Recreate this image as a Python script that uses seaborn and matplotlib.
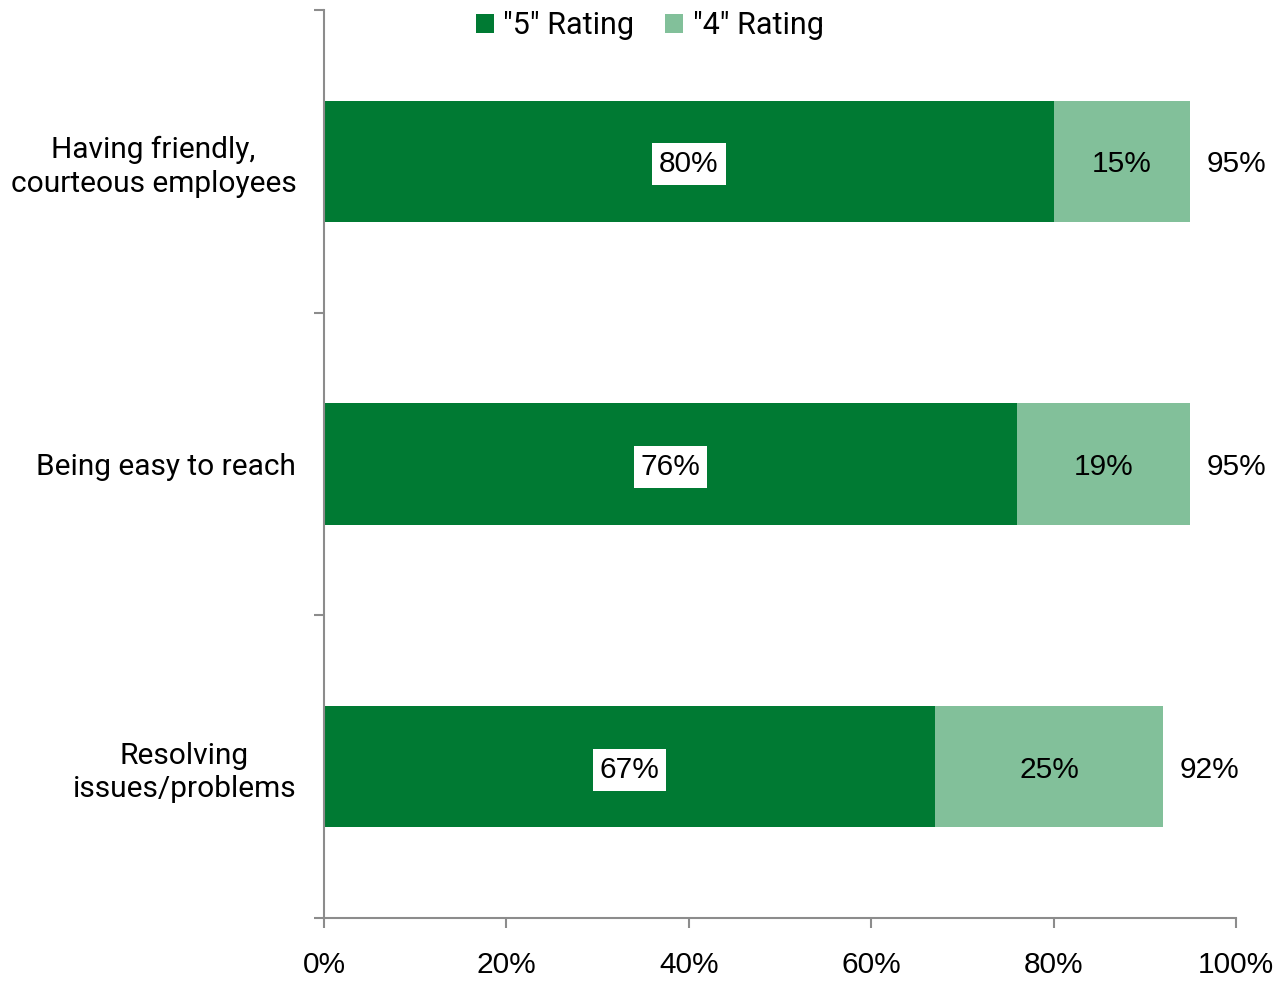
import matplotlib
matplotlib.use("Agg")
import matplotlib.pyplot as plt
import seaborn as sns
import pandas as pd
from matplotlib.patches import Patch
from matplotlib.ticker import FixedLocator, PercentFormatter

categories = ["Having friendly,\ncourteous employees", "Being easy to reach", "Resolving\nissues/problems"]
rating5 = [80, 76, 67]
rating4 = [15, 19, 25]
totals = [95, 95, 92]
series_names = ['"5" Rating', '"4" Rating']
xticks = [0, 20, 40, 60, 80, 100]

dark_green = "#007A33"
light_green = "#82C09A"
axis_gray = "#8C8C8C"

sns.set_theme(style="white")
plt.rcParams["font.family"] = ["Liberation Sans", "DejaVu Sans"]
plt.rcParams["text.color"] = "black"
plt.rcParams["xtick.color"] = "black"
plt.rcParams["ytick.color"] = "black"

df = pd.DataFrame({"category": categories, "r5": rating5, "r4": rating4, "total": totals})

fig = plt.figure(figsize=(12.88, 9.82), dpi=100)
ax = fig.add_axes([0.2516, 0.0652, 0.7080, 0.9246])

# stacked bars: total drawn first (light), "5" share over it (dark)
sns.barplot(data=df, x="total", y="category", orient="h", color=light_green,
            width=0.4, saturation=1, ax=ax, errorbar=None, linewidth=0, edgecolor="none")
sns.barplot(data=df, x="r5", y="category", orient="h", color=dark_green,
            width=0.4, saturation=1, ax=ax, errorbar=None, linewidth=0, edgecolor="none")

ax.set_xlim(0, 100)
ax.set_ylim(2.5, -0.5)
ax.set_xlabel("")
ax.set_ylabel("")

for i in range(len(categories)):
    v5, v4, tot = rating5[i], rating4[i], totals[i]
    ax.text(v5 / 2, i, f"{v5}%", ha="center", va="center_baseline", fontsize=21.5, color="black",
            bbox=dict(facecolor="white", edgecolor="none", pad=5))
    ax.text(v5 + v4 / 2, i, f"{v4}%", ha="center", va="center_baseline", fontsize=21.5, color="black")
    ax.annotate(f"{tot}%", xy=(tot, i), xytext=(12, 0), textcoords="offset points",
                ha="left", va="center_baseline", fontsize=21.5, color="black")

# axes styling
for side in ["top", "right"]:
    ax.spines[side].set_visible(False)
for side in ["left", "bottom"]:
    ax.spines[side].set_color(axis_gray)
    ax.spines[side].set_linewidth(1.5)

ax.xaxis.set_major_locator(FixedLocator(xticks))
ax.xaxis.set_major_formatter(PercentFormatter(decimals=0))
ax.tick_params(axis="x", which="major", direction="out", length=7, width=1.5,
               color=axis_gray, labelcolor="black", labelsize=21.5, pad=17, bottom=True)

ax.set_yticks(range(len(categories)))
ax.set_yticklabels(categories, fontsize=21.5, family=["Roboto", "DejaVu Sans"], color="black")
ax.tick_params(axis="y", which="major", length=0, pad=20)
ax.yaxis.set_minor_locator(FixedLocator([-0.5, 0.5, 1.5, 2.5]))
ax.tick_params(axis="y", which="minor", direction="out", length=7, width=1.5,
               color=axis_gray, left=True)
for lbl in ax.get_yticklabels():
    lbl.set_multialignment("center")
    lbl.set_linespacing(1.25)
    lbl.set_verticalalignment("center_baseline")

handles = [Patch(facecolor=dark_green, edgecolor="none"),
           Patch(facecolor=light_green, edgecolor="none")]
fig.legend(handles, series_names, loc="center", bbox_to_anchor=(0.5045, 0.974), ncol=2,
           frameon=False, handlelength=0.6, handleheight=0.6,
           handletextpad=0.3, columnspacing=1.0,
           prop={"family": ["Roboto", "DejaVu Sans"], "size": 22})

fig.savefig("out.png", dpi=100, facecolor="white")
